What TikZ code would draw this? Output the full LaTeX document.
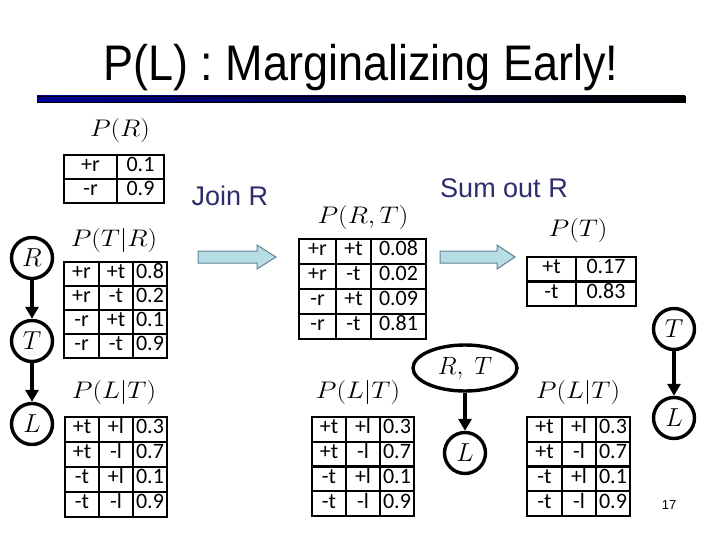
\RequirePackage{fix-cm}
\documentclass[tikz,border=0pt]{standalone}
\usepackage[no-math]{fontspec}
\setmainfont{Liberation Sans}
\newfontfamily\calfont{Carlito}
\usetikzlibrary{arrows.meta,shapes.geometric}
\definecolor{navyt}{RGB}{45,45,110}
\definecolor{arrowfill}{RGB}{183,222,228}
\definecolor{arrowline}{RGB}{100,130,150}
\definecolor{barblue}{RGB}{0,0,150}
\tikzset{
  tabline/.style={line width=2.4pt},
  cell/.style={font=\calfont\fontsize{22}{26}\selectfont, inner sep=0pt, text height=0.64em, text depth=0pt, yshift=-1.2pt},
  mlabel/.style={font=\fontsize{24}{29}\selectfont, inner sep=0pt},
  var/.style={circle, draw, line width=3.4pt, minimum size=41pt, inner sep=0pt, font=\fontsize{26}{30}\selectfont},
  edge/.style={line width=3.4pt, -{Triangle[length=12pt,width=13pt]}},
  blockarrow/.style={fill=arrowfill, draw=arrowline, line width=1pt},
  optext/.style={font=\fontsize{27}{32}\selectfont, text=navyt, inner sep=0pt}
}
% name, x0, x1, x2, x3, ytop, ybot, entries
\newcommand\tabthree[8]{%
  \pgfmathsetmacro\rowh{(#7-#6)/4}%
  \draw[tabline] (#2,#6) rectangle (#5,#7);
  \foreach \k in {1,2,3} \draw[tabline] (#2,{#6+\k*\rowh}) -- (#5,{#6+\k*\rowh});
  \draw[tabline] (#3,#6) -- (#3,#7);
  \draw[tabline] (#4,#6) -- (#4,#7);
  \foreach \ca/\cb/\cc [count=\i] in {#8} {
    \node[cell] (#1-\i-a) at ({(#2+#3)/2},{#6+(\i-0.5)*\rowh}) {\ca};
    \node[cell] (#1-\i-b) at ({(#3+#4)/2},{#6+(\i-0.5)*\rowh}) {\cb};
    \node[cell] (#1-\i-c) at ({(#4+#5)/2},{#6+(\i-0.5)*\rowh}) {\cc};
  }
}
% name, x0, x1, x2, ytop, ybot, entries
\newcommand\tabtwo[7]{%
  \pgfmathsetmacro\rowh{(#6-#5)/2}%
  \draw[tabline] (#2,#5) rectangle (#4,#6);
  \draw[tabline] (#2,{#5+\rowh}) -- (#4,{#5+\rowh});
  \draw[tabline] (#3,#5) -- (#3,#6);
  \foreach \ca/\cb [count=\i] in {#7} {
    \node[cell] (#1-\i-a) at ({(#2+#3)/2},{#5+(\i-0.5)*\rowh}) {\ca};
    \node[cell] (#1-\i-b) at ({(#3+#4)/2},{#5+(\i-0.5)*\rowh}) {\cb};
  }
}
\begin{document}
\begin{tikzpicture}[x=1pt,y=-1pt]
\useasboundingbox (0,0) rectangle (720,540);
\fill[white] (0,0) rectangle (720,540);
% title
\node[inner sep=0pt] (title) at (361,68) {\scalebox{0.9}[1]{\fontsize{50}{60}\selectfont P(L) : Marginalizing Early!}};
\shade[left color=barblue, right color=black, draw=black, line width=0.5pt] (37,96) rectangle (685,102);
% left column
\node[mlabel] (lPR) at (120,131) {\scalebox{1.12}[1]{$P(R)$}};
\tabtwo{tPR}{64}{117}{164}{155}{203}{+r/0.1, -r/0.9}
\node[mlabel] (lPTR) at (114,241) {\scalebox{1.12}[1]{$P(T|R)$}};
\tabthree{tPTR}{64}{99}{133}{167}{262}{358}{+r/+t/0.8, +r/-t/0.2, -r/+t/0.1, -r/-t/0.9}
\node[mlabel] (lPLT1) at (114,392) {\scalebox{1.12}[1]{$P(L|T)$}};
\tabthree{tPLT1}{65}{99}{133}{167}{417}{517}{+t/+l/0.3, +t/-l/0.7, -t/+l/0.1, -t/-l/0.9}
\node[var] (R) at (32,258) {$R$};
\node[var] (T) at (32,341) {$T$};
\node[var] (L) at (32,424) {$L$};
\draw[edge] (R) -- (T);
\draw[edge] (T) -- (L);
% join
\node[optext] (join) at (230,196) {Join R};
\draw[blockarrow] (198,251) -- (257,251) -- (257,245) -- (276,257) -- (257,269) -- (257,263) -- (198,263) -- cycle;
% middle column
\node[mlabel] (lPRT) at (363,218) {\scalebox{1.12}[1]{$P(R,T)$}};
\tabthree{tPRT}{299}{336}{371}{426}{239}{339}{+r/+t/0.08, +r/-t/0.02, -r/+t/0.09, -r/-t/0.81}
\node[mlabel] (lPLT2) at (358,392) {\scalebox{1.12}[1]{$P(L|T)$}};
\tabthree{tPLT2}{312}{346}{380}{414}{417}{516}{+t/+l/0.3, +t/-l/0.7, -t/+l/0.1, -t/-l/0.9}
\node[ellipse, draw, line width=3.4pt, minimum width=104pt, minimum height=46pt, inner sep=0pt, font=\fontsize{25}{30}\selectfont] (RT) at (465,368) {$R,\;T$};
\node[var] (Lm) at (465,453) {$L$};
\draw[edge] (RT) -- (Lm);
% sum out
\node[optext] (sumout) at (504,188) {Sum out R};
\draw[blockarrow] (440,251) -- (497,251) -- (497,245) -- (515,257) -- (497,269) -- (497,263) -- (440,263) -- cycle;
% right column
\node[mlabel] (lPT) at (578,231) {\scalebox{1.12}[1]{$P(T)$}};
\tabtwo{tPT}{527}{576}{636}{257}{306}{+t/0.17, -t/0.83}
\node[mlabel] (lPLT3) at (578,392) {\scalebox{1.12}[1]{$P(L|T)$}};
\tabthree{tPLT3}{527}{562}{596}{630}{417}{516}{+t/+l/0.3, +t/-l/0.7, -t/+l/0.1, -t/-l/0.9}
\node[var] (Tr) at (674,329) {$T$};
\node[var] (Lr) at (674,418) {$L$};
\draw[edge] (Tr) -- (Lr);
\node[inner sep=0pt, font=\fontsize{13}{15}\selectfont] (pagenum) at (669,505) {17};
\end{tikzpicture}
\end{document}
